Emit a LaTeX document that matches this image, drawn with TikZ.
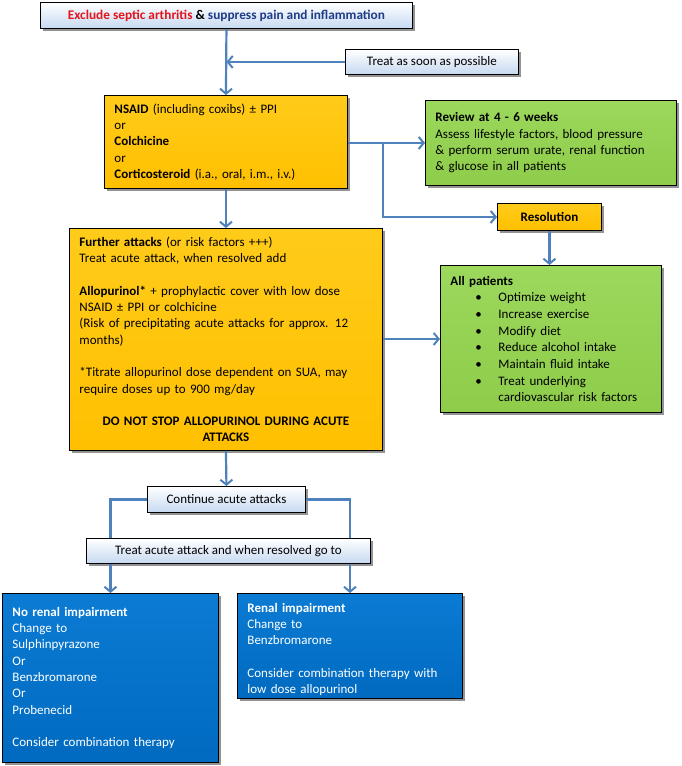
\documentclass[tikz,border=0pt]{standalone}
\usepackage{fontspec}
\setmainfont{Carlito}
\usetikzlibrary{arrows.meta,shadows,calc}
\definecolor{arrowblue}{HTML}{4F81BD}
\definecolor{lightbluebox}{HTML}{C6D9F1}
\definecolor{ytop}{HTML}{FFCB1A}
\definecolor{ybot}{HTML}{FFC000}
\definecolor{gtop}{HTML}{9CD85C}
\definecolor{gbot}{HTML}{8ECC4A}
\definecolor{btop}{HTML}{0C7BD3}
\definecolor{bbot}{HTML}{006AC0}
\definecolor{titlered}{HTML}{E3141C}
\definecolor{titleblue}{HTML}{1F3C88}
\tikzset{
  box/.style={draw=black, line width=0.9pt, anchor=north west, inner xsep=10pt, inner ysep=0pt,
    drop shadow={shadow xshift=3pt, shadow yshift=-3pt, fill=black!70, opacity=0.6}},
  lbox/.style={box, top color=white, bottom color=lightbluebox, align=center},
  ybox/.style={box, top color=ytop, bottom color=ybot, align=left},
  gbox/.style={box, top color=gtop, bottom color=gbot, align=left},
  bbox/.style={box, top color=btop, bottom color=bbot, align=left, text=white},
  arr/.style={draw=arrowblue, line width=2.2pt, -{Straight Barb[length=5pt,width=12pt,line width=2pt]}},
  ln/.style={draw=arrowblue, line width=2.2pt},
}
\newcommand{\bul}[1]{\hspace*{25pt}\makebox[23pt][l]{\textbullet}#1}
\begin{document}
\begin{tikzpicture}[x=1pt,y=-1pt,font=\fontsize{13}{16.3}\selectfont]
\useasboundingbox (0,0) rectangle (681,766);
\fill[white] (0,0) rectangle (681,766);

\node[lbox, minimum width=372pt, minimum height=26pt, font=\fontsize{13.3}{16}\selectfont] (top) at (40,2)
  {\textbf{\textcolor{titlered}{Exclude septic arthritis} \& \textcolor{titleblue}{suppress pain and inflammation}}};
\node[lbox, minimum width=173pt, minimum height=25pt] (asap) at (345,49) {Treat as soon as possible};

\node[ybox, minimum width=243pt, minimum height=93pt, text width=223pt] (nsaid) at (104,95)
  {\textbf{NSAID} (including coxibs) ± PPI\\or\\\textbf{Colchicine}\\or\\\textbf{Corticosteroid} (i.a., oral, i.m., i.v.)};

\node[gbox, minimum width=251pt, minimum height=85pt, text width=231pt] (review) at (425,100)
  {\textbf{Review at 4 - 6 weeks}\\Assess lifestyle factors, blood pressure\\\& perform serum urate, renal function\\\& glucose in all patients\\[9pt]};

\node[ybox, minimum width=104pt, minimum height=27pt, align=center] (resol) at (497,203) {\textbf{Resolution}};

\node[gbox, minimum width=221pt, minimum height=147pt, text width=201pt, font=\fontsize{13}{16.7}\selectfont] (allpat) at (440,265)
  {\textbf{All patients}\\\bul{Optimize weight}\\\bul{Increase exercise}\\\bul{Modify diet}\\\bul{Reduce alcohol intake}\\\bul{Maintain fluid intake}\\\bul{Treat underlying}\\\hspace*{48pt}cardiovascular risk factors};

\node[ybox, minimum width=313pt, minimum height=222pt, text width=293pt] (further) at (69,228)
  {\textbf{Further attacks} (or risk factors +++)\\Treat acute attack, when resolved add\\[16.3pt]
   \textbf{Allopurinol*} + prophylactic cover with low dose\\NSAID ± PPI or colchicine\\(Risk of precipitating acute attacks for approx. 12\\months)\\[16.3pt]
   *Titrate allopurinol dose dependent on SUA, may\\require doses up to 900 mg/day\\[16.3pt]
   \makebox[293pt]{\textbf{DO NOT STOP ALLOPURINOL DURING ACUTE}}\\\makebox[293pt]{\textbf{ATTACKS}}};

\node[lbox, minimum width=158pt, minimum height=26pt] (cont) at (147,486) {Continue acute attacks};
\node[lbox, minimum width=284pt, minimum height=25pt] (treatgo) at (86,538) {Treat acute attack and when resolved go to};

\node[bbox, minimum width=216pt, minimum height=169pt, text width=196pt] (norenal) at (2,593)
  {\textbf{No renal impairment}\\Change to\\Sulphinpyrazone\\Or\\Benzbromarone\\Or\\Probenecid\\[16.3pt]Consider combination therapy\\[15pt]};

\node[bbox, minimum width=225pt, minimum height=105pt, text width=205pt] (renal) at (237,593)
  {\rule{0pt}{16pt}\textbf{Renal impairment}\\Change to\\Benzbromarone\\[16.3pt]Consider combination therapy with\\low dose allopurinol};

% connectors
\draw[arr] (top.south) -- (nsaid.north);
\draw[arr] (asap.west) -- (asap.west -| top.south);
\coordinate (j) at (383,0);
\draw[arr] (nsaid.east |- review.west) -- (review.west);
\draw[arr] (j |- review.west) |- (resol.west);
\draw[arr] (resol.south) -- (resol.south |- allpat.north);
\draw[arr] (nsaid.south) -- (further.north);
\draw[arr] (further.east |- allpat.west) -- (allpat.west);
\draw[arr] (further.south) -- (cont.north);
\draw[ln] (cont.west) -| (treatgo.north -| norenal.north);
\draw[ln] (cont.east) -| (treatgo.north -| renal.north);
\draw[arr] (treatgo.south -| norenal.north) -- (norenal.north);
\draw[arr] (treatgo.south -| renal.north) -- (renal.north);
\end{tikzpicture}
\end{document}
